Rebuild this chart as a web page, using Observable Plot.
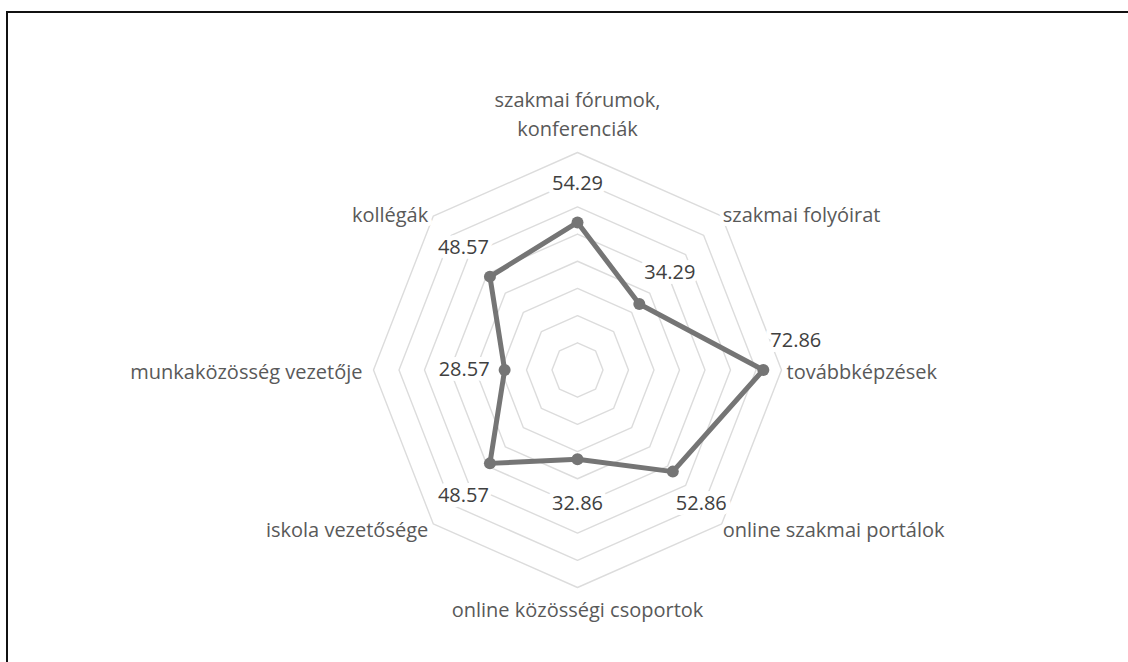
<!DOCTYPE html>
<html>
<head>
<meta charset="utf-8">
<script src="https://cdn.jsdelivr.net/npm/d3@7"></script>
<script src="https://cdn.jsdelivr.net/npm/@observablehq/plot@0.6"></script>
<style>
  html, body { margin: 0; padding: 0; background: #fff; }
  #wrap { position: relative; width: 1128px; height: 662px; overflow: hidden; }
  #frame { position: absolute; left: 6px; top: 11px; width: 1200px; height: 700px;
           border-top: 2px solid #111; border-left: 2px solid #111; pointer-events: none; }
  #chart { position: absolute; left: 0; top: 0; }
</style>
</head>
<body>
<div id="wrap"><div id="chart"></div><div id="frame"></div></div>
<script>
// ---- data ----
const categories = [
  "szakmai fórumok,\nkonferenciák",
  "szakmai folyóirat",
  "továbbképzések",
  "online szakmai portálok",
  "online közösségi csoportok",
  "iskola vezetősége",
  "munkaközösség vezetője",
  "kollégák"
];
const values = [54.29, 34.29, 72.86, 52.86, 32.86, 48.57, 28.57, 48.57];
const ringValues = [10, 20, 30, 40, 50, 60, 70, 80];
const maxValue = 80;

// ---- geometry helpers (polar -> cartesian in data units) ----
const n = categories.length;
const ang = i => i * 2 * Math.PI / n;
const px = (r, i) => r * Math.sin(ang(i));
const py = (r, i) => r * Math.cos(ang(i));

const rings = ringValues.flatMap(rv =>
  d3.range(n + 1).map(i => ({ring: rv, x: px(rv, i % n), y: py(rv, i % n)})));
const series = d3.range(n + 1).map(i => ({x: px(values[i % n], i % n), y: py(values[i % n], i % n)}));
const points = values.map((v, i) => ({i, v, label: v.toFixed(2), cat: categories[i], x: px(v, i), y: py(v, i),
  ox: px(maxValue, i), oy: py(maxValue, i)}));

// label placement (styling)
const catPlace = [
  {anchor: "middle", dx: 0, dy: -40},
  {anchor: "start", dx: 1, dy: -3},
  {anchor: "start", dx: 5, dy: 0},
  {anchor: "start", dx: 1, dy: 4},
  {anchor: "middle", dx: 0, dy: 20},
  {anchor: "end", dx: -5, dy: 4},
  {anchor: "end", dx: -11, dy: 0},
  {anchor: "end", dx: -5, dy: -3}
];
const valPlace = [
  {anchor: "middle", dx: 0, dy: -39},
  {anchor: "start", dx: 5, dy: -31},
  {anchor: "start", dx: 7, dy: -29},
  {anchor: "start", dx: 3, dy: 32},
  {anchor: "middle", dx: 0, dy: 44},
  {anchor: "end", dx: -1, dy: 32},
  {anchor: "end", dx: -15, dy: 0},
  {anchor: "end", dx: -1, dy: -29}
];

const font = "'Open Sans', 'Noto Sans', sans-serif";
const catMarks = points.map((p, i) => Plot.text([p], {
  x: "ox", y: "oy", text: "cat", textAnchor: catPlace[i].anchor, dx: catPlace[i].dx, dy: catPlace[i].dy,
  fill: "#595959", stroke: "white", strokeWidth: 8, paintOrder: "stroke", fontSize: 20, lineHeight: 1.45
}));
const valMarks = points.map((p, i) => Plot.text([p], {
  x: "x", y: "y", text: "label", textAnchor: valPlace[i].anchor, dx: valPlace[i].dx, dy: valPlace[i].dy,
  fill: "#404040", stroke: "white", strokeWidth: 10, paintOrder: "stroke", fontSize: 20
}));

const chart = Plot.plot({
  width: 1128,
  height: 662,
  marginLeft: 373,
  marginRight: 347,
  marginTop: 152,
  marginBottom: 75,
  x: {domain: [-maxValue, maxValue], axis: null},
  y: {domain: [-maxValue, maxValue], axis: null},
  style: {fontFamily: font, background: "transparent", overflow: "visible"},
  marks: [
    Plot.line(rings, {x: "x", y: "y", z: "ring", stroke: "#dcdcdc", strokeWidth: 1.4}),
    ...catMarks,
    ...valMarks,
    Plot.line(series, {x: "x", y: "y", stroke: "#757575", strokeWidth: 5, strokeLinejoin: "round"}),
    Plot.dot(points, {x: "x", y: "y", r: 6, fill: "#757575"})
  ]
});
document.getElementById("chart").appendChild(chart);
</script>
</body>
</html>
